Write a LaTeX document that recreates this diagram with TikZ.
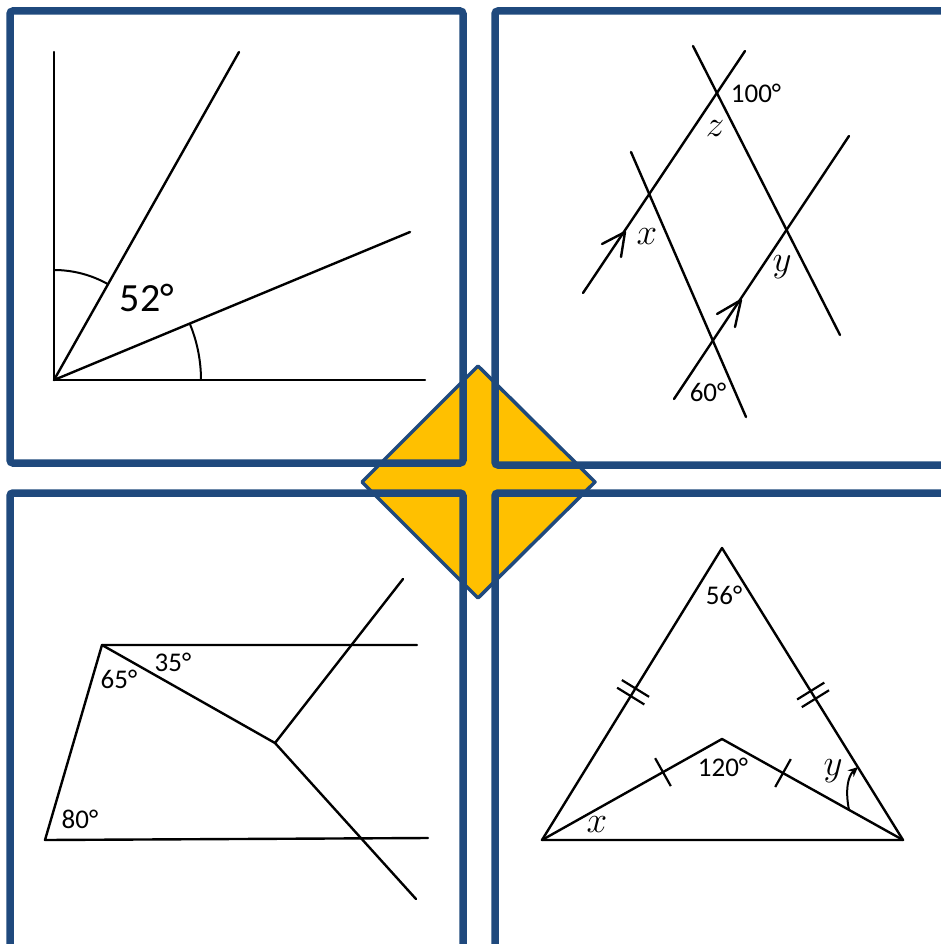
\documentclass[tikz,border=0pt]{standalone}
\usepackage{fix-cm}
\usepackage{fontspec}
\setmainfont{Carlito}
\usetikzlibrary{calc,arrows.meta}
\definecolor{boxblue}{RGB}{31,73,125}
\definecolor{gold}{RGB}{255,192,0}
\begin{document}
\begin{tikzpicture}[x=1pt,y=-1pt,
  geo/.style={line width=2.4pt, black, line cap=round, line join=round},
  panel/.style={draw=boxblue, line width=7.5pt, rounded corners=3pt},
  lab/.style={font=\fontsize{27}{27}\selectfont, inner sep=0pt},
  biglab/.style={font=\fontsize{40}{40}\selectfont, inner sep=0pt},
  var/.style={font=\fontsize{37}{37}\selectfont, inner sep=0pt}]
\useasboundingbox (0,0) rectangle (941,944);
\begin{scope}
\clip (0,0) rectangle (941,944);
% central diamond
\draw[draw=boxblue, fill=gold, line width=3.5pt, line join=round]
  (478,366) -- (595,482) -- (478,598) -- (362,482) -- cycle;
% panels
\draw[panel] (10,11) rectangle (463,463);
\draw[panel] (495,11) rectangle (955,465);
\draw[panel] (10,493) rectangle (463,952);
\draw[panel] (495,493) rectangle (955,952);

% ---------- top-left panel ----------
\coordinate (O) at (54,380);
\coordinate (Vt) at (54,52);
\coordinate (Hr) at (425,380);
\coordinate (R1) at (239,52);
\coordinate (R2) at (410,232);
\draw[geo] (Vt) -- (O) -- (Hr);
\draw[geo] (O) -- (R1);
\draw[geo] (O) -- (R2);
\draw[line width=2pt] (54,270) arc[start angle=90, end angle=60.6, radius=110pt];
\draw[line width=2pt] (201,380) arc[start angle=0, end angle=22.6, radius=147pt];
\node[biglab] (a52) at (147,298) {52°};

% ---------- top-right panel ----------
\coordinate (A1) at (583,293); \coordinate (A2) at (745,51);
\coordinate (B1) at (693,46);  \coordinate (B2) at (840,335);
\coordinate (C1) at (631,152); \coordinate (C2) at (746,417);
\coordinate (D1) at (674,399); \coordinate (D2) at (849,136);
\draw[geo] (A1) -- (A2);
\draw[geo] (B1) -- (B2);
\draw[geo] (C1) -- (C2);
\draw[geo] (D1) -- (D2);
\draw[geo] (602,244) -- (625,232) -- (621,257);
\draw[geo] (717,314) -- (741,300) -- (735,327);
\node[lab] (a100) at (756,93) {100°};
\node[lab] (a60) at (708,392) {60°};
\node[var] (vz) at (715,129) {$z$};
\node[var] (vx) at (647,237) {$x$};
\node[var] (vy) at (782,267) {$y$};

% ---------- bottom-left panel ----------
\coordinate (P) at (102,645);
\coordinate (Pr) at (417,645);
\coordinate (Q) at (45,840);
\coordinate (Qr) at (428,838);
\coordinate (R) at (275,743);
\coordinate (Ru) at (403,579);
\coordinate (Rd) at (416,899);
\draw[geo] (Pr) -- (P) -- (Q) -- (Qr);
\draw[geo] (P) -- (R) -- (Ru);
\draw[geo] (R) -- (Rd);
\node[lab] (a35) at (173,662) {35°};
\node[lab] (a65) at (119,679) {65°};
\node[lab] (a80) at (80,819) {80°};

% ---------- bottom-right panel ----------
\coordinate (T) at (722,548);
\coordinate (L) at (542,840);
\coordinate (Rr) at (903,840);
\coordinate (M) at (722,739);
\draw[geo] (T) -- (L) -- (Rr) -- cycle;
\draw[geo] (L) -- (M) -- (Rr);
% double ticks
\coordinate (tl) at ($(T)!0.494!(L)$);
\coordinate (tr) at ($(T)!0.503!(Rr)$);
\foreach \c/\e in {tl/L, tr/Rr}{
  \foreach \s in {-4.5pt,4.5pt}{
    \coordinate (k) at ($(\c)!\s!(\e)$);
    \draw[line width=2.2pt] ($(k)!16pt!90:(\e)$) -- ($(k)!16pt!-90:(\e)$);
  }
}
% single ticks
\coordinate (sl) at ($(L)!0.672!(M)$);
\coordinate (sr) at ($(M)!0.337!(Rr)$);
\draw[line width=2.2pt] ($(sl)!16pt!90:(M)$) -- ($(sl)!16pt!-90:(M)$);
\draw[line width=2.2pt] ($(sr)!16pt!90:(Rr)$) -- ($(sr)!16pt!-90:(Rr)$);
% y arrow
\draw[line width=2pt, -{Stealth[length=10pt,width=9pt]}] (849,810) .. controls (845,790) and (848,776) .. (858,767);
\node[lab] (a56) at (724,595) {56°};
\node[lab] (a120) at (723,767) {120°};
\node[var] (bx) at (597,825) {$x$};
\node[var] (by) at (833,771) {$y$};
\end{scope}
\end{tikzpicture}
\end{document}
